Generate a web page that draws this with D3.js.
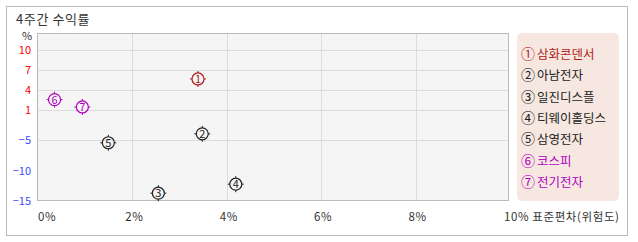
<!DOCTYPE html>
<html>
<head>
<meta charset="utf-8">
<script src="https://cdn.jsdelivr.net/npm/d3@7"></script>
<style>
  body { margin: 0; background: #fff; }
  text { font-family: "Noto Sans CJK KR", "Noto Sans", sans-serif; }
</style>
</head>
<body>
<div id="chart"></div>
<script>
// data
const names = ['삼화콘덴서', '아남전자', '일진디스플', '티웨이홀딩스', '삼영전자', '코스피', '전기전자'];
const marks = ['①', '②', '③', '④', '⑤', '⑥', '⑦'];
const risk = [3.39, 3.48, 2.55, 4.19, 1.49, 0.35, 0.94];      // 표준편차 %
const returns = [5.7, -3.7, -13.7, -12.2, -5.4, 2.6, 1.5];   // 4주간 수익률 %
const colors = ['#b01c1c', '#222', '#222', '#222', '#222', '#b000c0', '#b000c0'];
const yTicks = [10, 7, 4, 1, -5, -10, -15];
const yGrid = [10, 7, 4, 1, -5];
const xTicks = [0, 2, 4, 6, 8, 10];

const width = 638, height = 242;
const plot = { left: 38, top: 34, right: 509, bottom: 201 };

const svg = d3.select('#chart').append('svg')
    .attr('width', width)
    .attr('height', height);

// outer frame
svg.append('rect')
    .attr('x', 6.5).attr('y', 6.5)
    .attr('width', 621).attr('height', 229)
    .attr('fill', '#fff')
    .attr('stroke', '#bbb');

svg.append('text')
    .attr('x', 16).attr('y', 24)
    .attr('font-size', 13)
    .attr('letter-spacing', 0.6)
    .attr('fill', '#333')
    .text('4주간 수익률');

svg.append('text')
    .attr('x', 22).attr('y', 40)
    .attr('font-size', 11)
    .attr('fill', '#333')
    .text('%');

const x = d3.scaleLinear().domain([0, 10]).range([plot.left, plot.right + 1]);
// y axis of the original is not evenly spaced, so map piece by piece
const y = d3.scaleLinear()
    .domain([-15, -10, -5, 1, 4, 7, 10])
    .range([201, 171, 140.3, 110.3, 90.3, 70.3, 50.3]);

svg.append('rect')
    .attr('x', plot.left - 0.5).attr('y', plot.top - 0.5)
    .attr('width', plot.right - plot.left).attr('height', plot.bottom - plot.top)
    .attr('fill', '#f5f5f5');

// grid
svg.append('g').selectAll('line')
    .data(yGrid)
    .join('line')
    .attr('x1', plot.left).attr('x2', plot.right)
    .attr('y1', d => Math.round(y(d)) + 0.5)
    .attr('y2', d => Math.round(y(d)) + 0.5)
    .attr('stroke', '#dcdcdc');

svg.append('g').selectAll('line')
    .data(xTicks.slice(1, -1))
    .join('line')
    .attr('x1', d => Math.round(x(d)) + 0.5)
    .attr('x2', d => Math.round(x(d)) + 0.5)
    .attr('y1', plot.top).attr('y2', plot.bottom)
    .attr('stroke', '#dcdcdc');

svg.append('rect')
    .attr('x', plot.left - 0.5).attr('y', plot.top - 0.5)
    .attr('width', plot.right - plot.left).attr('height', plot.bottom - plot.top)
    .attr('fill', 'none')
    .attr('stroke', '#bbb');

// y labels
svg.append('g').selectAll('text')
    .data(yTicks)
    .join('text')
    .attr('x', 31)
    .attr('y', d => y(d) + 4)
    .attr('text-anchor', 'end')
    .attr('font-size', 11)
    .attr('fill', d => d > 0 ? '#ff0000' : '#3a4cff')
    .text(d => d < 0 ? '\u2212' + Math.abs(d) : d);

// x labels
svg.append('g').selectAll('text')
    .data(xTicks)
    .join('text')
    .attr('x', d => d == 0 ? x(d) : d == 10 ? x(d) - 6 : x(d) + 2)
    .attr('y', 221)
    .attr('text-anchor', d => d == 0 || d == 10 ? 'start' : 'middle')
    .attr('font-size', 11.5)
    .attr('letter-spacing', 0.6)
    .attr('fill', '#333')
    .text(d => d == 10 ? d + '% 표준편차(위험도)' : d + '%');

// points
const pts = svg.append('g').selectAll('g')
    .data(names.map((n, i) => i))
    .join('g')
    .attr('transform', i => `translate(${x(risk[i])},${y(returns[i])})`);

pts.append('circle')
    .attr('r', 6)
    .attr('fill', 'none')
    .attr('stroke', i => colors[i])
    .attr('stroke-width', 1.2);

pts.selectAll('line')
    .data(i => [[0, -6, 0, -8, i], [0, 6, 0, 8, i], [-6, 0, -8, 0, i], [6, 0, 8, 0, i]])
    .join('line')
    .attr('x1', d => d[0]).attr('y1', d => d[1])
    .attr('x2', d => d[2]).attr('y2', d => d[3])
    .attr('stroke', d => colors[d[4]]);

pts.append('text')
    .attr('y', 4)
    .attr('text-anchor', 'middle')
    .attr('font-size', 11)
    .attr('fill', i => colors[i])
    .text(i => i + 1);

// legend
svg.append('rect')
    .attr('x', 517).attr('y', 33)
    .attr('width', 102).attr('height', 168)
    .attr('rx', 5)
    .attr('fill', '#f6e8e0');

const leg = svg.append('g').selectAll('text')
    .data(names.map((n, i) => i))
    .join('text')
    .attr('x', 521)
    .attr('y', i => 59 + i * 21.3)
    .attr('font-size', 12.5)
    .attr('fill', i => colors[i]);

leg.append('tspan')
    .attr('font-size', 14)
    .text(i => marks[i]);

leg.append('tspan')
    .attr('dx', 2)
    .text(i => names[i]);
</script>
</body>
</html>
